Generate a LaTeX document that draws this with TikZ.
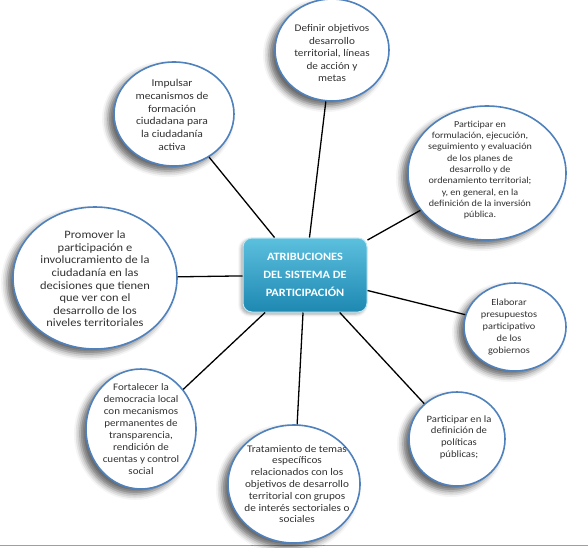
\documentclass[tikz,border=0pt]{standalone}
\usepackage{fontspec}
\setmainfont{Carlito}[FakeStretch=1.1]
\usetikzlibrary{shapes.geometric,shadows.blur}
\definecolor{bubblue}{RGB}{79,129,189}
\definecolor{hubtop}{RGB}{92,192,222}
\definecolor{hubbot}{RGB}{30,136,178}
\definecolor{txtgray}{RGB}{50,50,50}
\begin{document}
\begin{tikzpicture}[x=1pt,y=-1pt,
  bubble/.style={ellipse,draw=bubblue,line width=1.6pt,fill=white,inner sep=0pt,
    blur shadow={shadow xshift=-6pt,shadow yshift=-5pt,shadow blur radius=6pt,shadow opacity=60}},
  bubtext/.style 2 args={align=center,text=txtgray,font=\fontsize{#1}{#2}\selectfont,inner sep=0pt},
  hub/.style={rectangle,rounded corners=9pt,draw=hubtop!40!white,line width=1pt,
    top color=hubtop,bottom color=hubbot,minimum width=124pt,minimum height=74pt,
    align=center,text=white,font=\fontsize{11.2}{18}\selectfont\bfseries,
    blur shadow={shadow xshift=-2pt,shadow yshift=-2pt,shadow blur radius=3pt,shadow opacity=35}},
  link/.style={line width=1.3pt,black}]
  \useasboundingbox (0,0) rectangle (588,547);
  \draw[gray!75,line width=1.5pt] (0,545.5) -- (588,545.5);
  % attributions round the hub
  \node[bubble,minimum width=114pt,minimum height=102pt] (def) at (332,50) {};
  \node[bubtext={10.2}{12.5}] (tdef) at (332,53) {Definir objetivos\\desarrollo\\territorial, líneas\\de acción y\\metas};
  \node[bubble,minimum width=120pt,minimum height=104pt] (imp) at (174,114) {};
  \node[bubtext={10.5}{12.7}] (timp) at (172,115) {Impulsar\\mecanismos de\\formación\\ciudadana para\\la ciudadanía\\activa};
  \node[bubble,minimum width=158pt,minimum height=134pt] (par) at (487,173) {};
  \node[bubtext={9.2}{11.3}] (tpar) at (480,170) {Participar en\\formulación, ejecución,\\seguimiento y evaluación\\de los planes de\\desarrollo y de\\ordenamiento territorial;\\y, en general, en la\\definición de la inversión\\pública.};
  \node[bubble,minimum width=164pt,minimum height=142pt] (pro) at (95,278) {};
  \node[bubtext={11.3}{12.6}] (tpro) at (95,279) {Promover la\\participación e\\involucramiento de la\\ciudadanía en las\\decisiones que tienen\\que ver con el\\desarrollo de los\\niveles territoriales};
  \node[bubble,minimum width=102pt,minimum height=88pt] (ela) at (515,327) {};
  \node[bubtext={9.4}{12.2}] (tela) at (509,327) {Elaborar\\presupuestos\\participativo\\de los\\gobiernos};
  \node[bubble,minimum width=110pt,minimum height=120pt] (fort) at (141,429) {};
  \node[bubtext={10}{11.9}] (tfort) at (141,429) {Fortalecer la\\democracia local\\con mecanismos\\permanentes de\\transparencia,\\rendición de\\cuentas y control\\social};
  \node[bubble,minimum width=132pt,minimum height=118pt] (trat) at (294,484) {};
  \node[bubtext={10.2}{11.8}] (ttrat) at (297,484) {Tratamiento de temas\\específicos\\relacionados con los\\objetivos de desarrollo\\territorial con grupos\\de interés sectoriales o\\sociales};
  \node[bubble,minimum width=96pt,minimum height=94pt] (pol) at (457,439) {};
  \node[bubtext={9.7}{11.7}] (tpol) at (459,437) {Participar en la\\definición de\\políticas\\públicas;};
  % hub
  \node[hub] (hub) at (305,275) {ATRIBUCIONES\\DEL SISTEMA DE\\PARTICIPACIÓN};
  \foreach \n in {def,imp,par,pro,ela,fort,trat,pol}
    \draw[link] (hub) -- (\n);
\end{tikzpicture}
\end{document}
